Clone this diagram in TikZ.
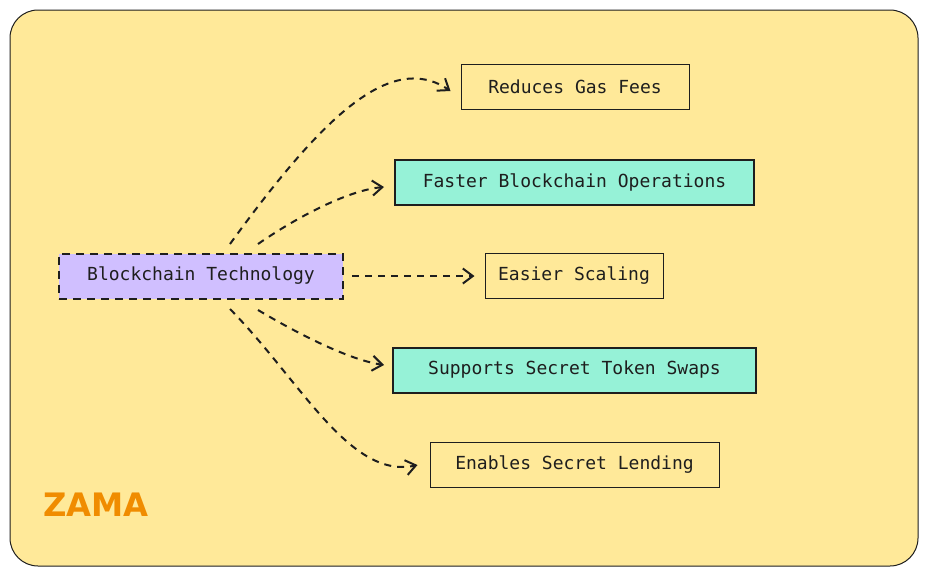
\documentclass[tikz,border=0pt]{standalone}
\usepackage{fontspec}
\setmonofont{DejaVu Sans Mono}
\setsansfont{DejaVu Sans}
\usetikzlibrary{arrows.meta}
\definecolor{bg}{HTML}{FFE999}
\definecolor{lav}{HTML}{D0BFFF}
\definecolor{teal}{HTML}{96F2D7}
\definecolor{ink}{HTML}{1E1E1E}
\definecolor{zama}{HTML}{F08C00}
\begin{document}
\begin{tikzpicture}[x=1pt,y=-1pt,
  box/.style={draw=ink,line width=1pt,minimum height=45pt,font=\ttfamily\fontsize{18}{18}\selectfont,text=ink,inner sep=0pt},
  hbox/.style={box,fill=teal,line width=2pt},
  conn/.style={draw=ink,line width=2pt,dash pattern=on 7pt off 6pt,-{Straight Barb[length=10pt,width=15pt,line width=2pt]}}]
\useasboundingbox (0,0) rectangle (928,576);
\draw[fill=bg,draw=ink,line width=1pt,rounded corners=28pt] (10,10) rectangle (918,566);
\node[box,fill=lav,line width=2pt,dash pattern=on 8pt off 6pt,minimum width=284pt] (src) at (201,276) {Blockchain Technology};
\node[box,minimum width=228pt] (a) at (575,87) {Reduces Gas Fees};
\node[hbox,minimum width=359pt] (b) at (574.5,182) {Faster Blockchain Operations};
\node[box,minimum width=178pt] (c) at (574,276) {Easier Scaling};
\node[hbox,minimum width=363pt] (d) at (574.5,370) {Supports Secret Token Swaps};
\node[box,minimum width=289pt] (e) at (574.5,465) {Enables Secret Lending};
\coordinate (s1) at (230,244);
\coordinate (s2) at (258,244);
\coordinate (s4) at (258,310);
\coordinate (s5) at (230,309);
\draw[conn] (s1) .. controls (320,120) and (390,50) .. ([xshift=-10pt,yshift=-4pt]a.west);
\draw[conn] (s2) .. controls (300,215) and (350,190) .. ([xshift=-10pt,yshift=-5pt]b.west);
\draw[conn] (src.east) ++(8,0) -- ([xshift=-10pt]c.west);
\draw[conn] (s4) .. controls (300,335) and (350,360) .. ([xshift=-8pt,yshift=5pt]d.west);
\draw[conn] (s5) .. controls (300,380) and (350,480) .. ([xshift=-12pt]e.west);
\node[font=\sffamily\bfseries\fontsize{34}{34}\selectfont,text=zama,scale=0.95] (logo) at (96,505) {ZAMA};
\end{tikzpicture}
\end{document}
